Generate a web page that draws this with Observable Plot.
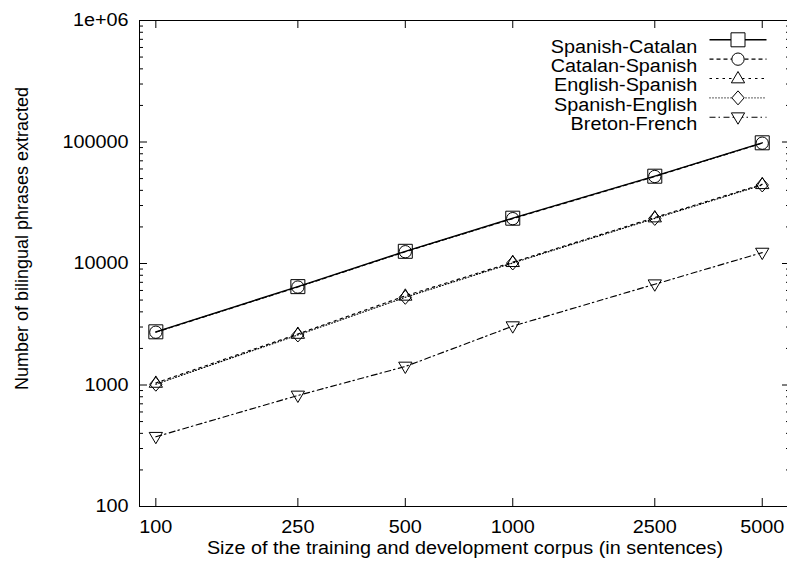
<!DOCTYPE html>
<html>
<head>
<meta charset="utf-8">
<script src="https://cdn.jsdelivr.net/npm/d3@7"></script>
<script src="https://cdn.jsdelivr.net/npm/@observablehq/plot@0.6"></script>
<style>
  html, body { margin: 0; padding: 0; background: white; overflow: hidden; }
</style>
</head>
<body>
<div id="chart"></div>
<script>
// ---- data ----
const sizes = [100, 250, 500, 1000, 2500, 5000];
const seriesNames = ["Spanish-Catalan", "Catalan-Spanish", "English-Spanish", "Spanish-English", "Breton-French"];
const spanishCatalan = [2740, 6450, 12600, 23600, 52300, 98500];
const catalanSpanish = [2720, 6400, 12500, 23400, 52000, 97800];
const englishSpanish = [1040, 2630, 5420, 10250, 23900, 44900];
const spanishEnglish = [1015, 2580, 5270, 10100, 23500, 44300];
const bretonFrench   = [375, 820, 1420, 3050, 6750, 12300];
const xTicks = [100, 250, 500, 1000, 2500, 5000];
const yTicks = [100, 1000, 10000, 100000, 1000000];
const yTickLabels = ["100", "1000", "10000", "100000", "1e+06"];
const xTitle = "Size of the training and development corpus (in sentences)";
const yTitle = "Number of bilingual phrases extracted";

const seriesValues = [spanishCatalan, catalanSpanish, englishSpanish, spanishEnglish, bretonFrench];

// ---- layout ----
const W = 791, H = 567, mL = 139, mR = 1, mT = 20, mB = 61;
const fw = W - mL - mR, fh = H - mT - mB;

// ---- symbols (gnuplot-like) ----
function rOf(size) { return Math.sqrt(size / Math.PI); }
const symSquare = { draw(c, s) { const r = rOf(s); c.rect(-r, -r, 2 * r, 2 * r); } };
const symCircle = { draw(c, s) { const r = rOf(s) * 0.88; c.moveTo(r, 0); c.arc(0, 0, r, 0, 2 * Math.PI); c.closePath(); } };
const symTriUp = { draw(c, s) { const r = rOf(s); c.moveTo(0, -r); c.lineTo(r * 0.95, r * 0.62); c.lineTo(-r * 0.95, r * 0.62); c.closePath(); } };
const symDiamond = { draw(c, s) { const r = rOf(s); c.moveTo(0, -r); c.lineTo(r * 0.88, 0); c.lineTo(0, r); c.lineTo(-r * 0.88, 0); c.closePath(); } };
const symTriDown = { draw(c, s) { const r = rOf(s); c.moveTo(-r * 0.95, -r * 0.62); c.lineTo(r * 0.95, -r * 0.62); c.lineTo(0, r); c.closePath(); } };
const symLegendLine = { draw(c, s) { c.moveTo(-28.5, 0); c.lineTo(28.5, 0); } };

const styles = [
  { symbol: symSquare, dash: null, width: 1.4 },
  { symbol: symCircle, dash: "4,3", width: 1.15 },
  { symbol: symTriUp, dash: "2.5,4", width: 1.15 },
  { symbol: symDiamond, dash: "1,2", width: 1.15 },
  { symbol: symTriDown, dash: "6,3,1.5,3.5", width: 1.15 }
];

const rows = [];
seriesNames.forEach((name, si) => {
  sizes.forEach((x, i) => rows.push({ series: name, si, x, y: seriesValues[si][i] }));
});

const minorY = [100, 1000, 10000, 100000].flatMap(d => [2, 3, 4, 5, 6, 7, 8, 9].map(k => k * d));
const yLabelMap = new Map(yTicks.map((d, i) => [d, yTickLabels[i]]));

const marks = [
  Plot.frame({ stroke: "black", strokeWidth: 1 }),
  // y axis labels
  Plot.axisY(yTicks, { tickSize: 0, tickPadding: 11, tickFormat: d => yLabelMap.get(d), label: null }),
  // inward y ticks, left and right (major 8px, minor 4px)
  Plot.tickY(yTicks, { y: d => d, insetRight: fw - 8, stroke: "black" }),
  Plot.tickY(minorY, { y: d => d, insetRight: fw - 4, stroke: "black" }),
  Plot.tickY(yTicks, { y: d => d, insetLeft: fw - 8, stroke: "black" }),
  Plot.tickY(minorY, { y: d => d, insetLeft: fw - 4, stroke: "black" }),
  // x axis labels
  Plot.axisX(xTicks, { tickSize: 0, tickPadding: 14, tickFormat: d => String(d), label: null }),
  // inward x ticks, bottom and top
  Plot.tickX(xTicks, { x: d => d, insetTop: fh - 8, stroke: "black" }),
  Plot.tickX(xTicks, { x: d => d, insetBottom: fh - 8, stroke: "black" }),
  // titles
  Plot.text([xTitle], { frameAnchor: "bottom", dy: 47, text: d => d, fontSize: 18, textAnchor: "middle" }),
  Plot.text([yTitle], { frameAnchor: "left", dx: -117, dy: -25, rotate: -90, text: d => d, fontSize: 18, textAnchor: "middle" })
];

seriesNames.forEach((name, si) => {
  const data = rows.filter(d => d.si === si);
  marks.push(Plot.line(data, { x: "x", y: "y", stroke: "black", strokeWidth: styles[si].width, strokeDasharray: styles[si].dash }));
  marks.push(Plot.dot(data, { x: "x", y: "y", symbol: styles[si].symbol, r: 7, stroke: "black", strokeWidth: 1, fill: "none" }));
  // legend entry
  const dy = 19.3 + 19.35 * si;
  marks.push(Plot.text([name], { frameAnchor: "top-right", dx: -93.3, dy, text: d => d, textAnchor: "end", fontSize: 18 }));
  marks.push(Plot.dot([name], { frameAnchor: "top-right", dx: -52.5, dy, symbol: symLegendLine, r: 7, stroke: "black", strokeWidth: styles[si].width, strokeDasharray: styles[si].dash }));
  marks.push(Plot.dot([name], { frameAnchor: "top-right", dx: -52.5, dy, symbol: styles[si].symbol, r: 7, stroke: "black", strokeWidth: 1, fill: "white" }));
});

const plot = Plot.plot({
  width: W,
  height: H,
  marginLeft: mL,
  marginRight: mR,
  marginTop: mT,
  marginBottom: mB,
  x: { type: "log", domain: [90, 6000] },
  y: { type: "log", domain: [100, 1000000] },
  style: { fontFamily: "'Liberation Sans', Arial, Helvetica, sans-serif", fontSize: "18px", color: "black", background: "white", maxWidth: "none", overflow: "visible" },
  marks
});

document.getElementById("chart").appendChild(plot);

// stretch horizontal text slightly (reference font is horizontally wide)
d3.select(plot).selectAll("text").each(function () {
  const t = this.getAttribute("transform") || "";
  if (t.includes("rotate")) return;
  const len = this.getComputedTextLength();
  if (len > 0) {
    this.setAttribute("textLength", (len * 1.1).toFixed(1));
    this.setAttribute("lengthAdjust", "spacingAndGlyphs");
  }
});
</script>
</body>
</html>
